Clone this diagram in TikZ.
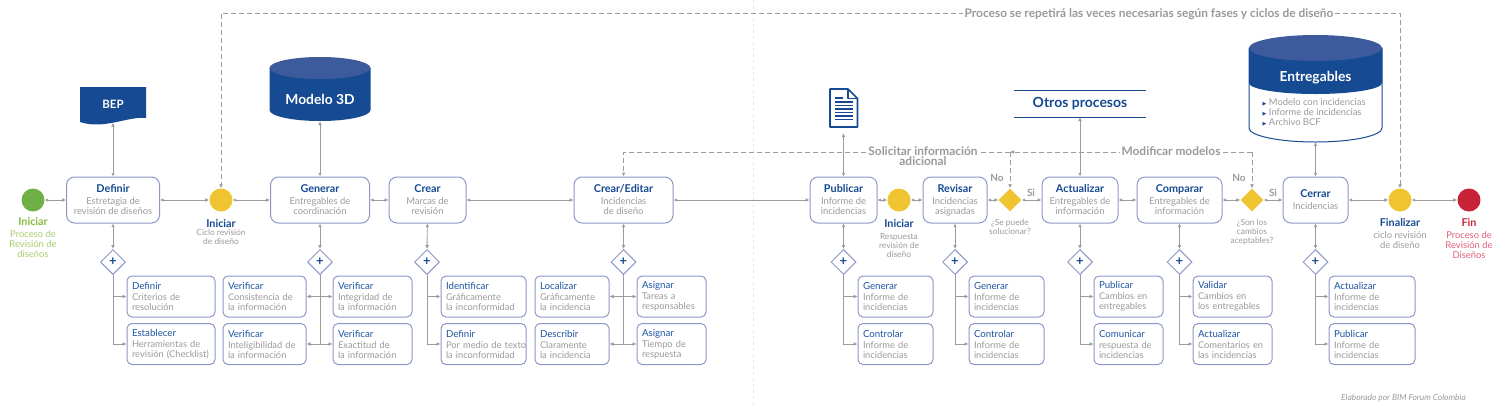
\documentclass[tikz,border=0pt]{standalone}
\usepackage{fontspec}
\setmainfont{Lato}
\newfontfamily\symfont{DejaVu Sans}
\usetikzlibrary{arrows.meta,positioning,shapes.geometric}
\definecolor{navy}{HTML}{164A92}
\definecolor{navylight}{HTML}{3C5A9C}
\definecolor{bluetitle}{HTML}{1D55A3}
\definecolor{edge}{HTML}{8E97C9}
\definecolor{linegray}{HTML}{9C9C9C}
\definecolor{bodygray}{HTML}{9A9A9A}
\definecolor{startgreen}{HTML}{6FAF45}
\definecolor{startlight}{HTML}{A9CB6F}
\definecolor{gold}{HTML}{F0C431}
\definecolor{endred}{HTML}{C72336}
\definecolor{endlight}{HTML}{E0607A}
\tikzset{mainbox/.style={draw=edge, line width=1pt, rounded corners=8, fill=white, minimum height=46, inner sep=0pt, align=center, text=bodygray, font=\fontsize{9.4}{10}\selectfont}}
\tikzset{subbox/.style={draw=edge, line width=1pt, rounded corners=5, fill=white, minimum height=41, inner xsep=5pt, inner ysep=0pt, text width=#1, align=left, text=bodygray, font=\fontsize{9.3}{10}\selectfont}}
\tikzset{arr/.style={draw=linegray, line width=.9pt, {Latex[length=3.5pt,width=3.5pt]}-{Latex[length=4pt,width=4pt]}}}
\tikzset{branch/.style={draw=linegray, line width=.9pt, -{Latex[length=4pt,width=4pt]}}}
\tikzset{dasharr/.style={draw=linegray, line width=.9pt, dash pattern=on 5pt off 3pt, -{Latex[length=4pt,width=4pt]}}}
\tikzset{gateway/.style={diamond, draw=edge, line width=1pt, fill=white, minimum size=25, inner sep=0pt, text=navy, font=\bfseries\fontsize{13}{13}\selectfont}}
\tikzset{decision/.style={diamond, fill=gold, minimum size=23, inner sep=0pt}}
\tikzset{event/.style={circle, minimum size=23, inner sep=0pt}}
\tikzset{caption/.style={align=center, anchor=north, inner sep=0pt, text=bodygray, font=\fontsize{9.4}{10}\selectfont}}
\tikzset{smallcap/.style={align=center, inner sep=0pt, text=bodygray, font=\fontsize{8.4}{9}\selectfont}}
\tikzset{flaglabel/.style={inner sep=0pt, text=bodygray, font=\bfseries\fontsize{10}{10}\selectfont}}
\tikzset{linelabel/.style={fill=white, inner sep=2pt, align=center, text=bodygray, font=\bfseries\fontsize{11.9}{10}\selectfont}}
\newcommand{\mt}[1]{{\bfseries\fontsize{10.8}{10}\selectfont\color{navy}#1}}
\newcommand{\st}[1]{{\fontsize{9.7}{10}\selectfont\color{bluetitle}#1}\\[1pt]}

\begin{document}
\begin{tikzpicture}[x=1pt,y=-1pt]
	\useasboundingbox (0,0) rectangle (1497,408);

	% central fold
	\coordinate (foldtop) at (753,0);
	\coordinate (foldend) at (753,408);
	\draw[black!9, dashed, line width=1pt] (foldtop) -- (foldend);

	% main row
	\node[event, fill=startgreen] (start) at (33,200){};
	\node[mainbox, minimum width=93] (definir) at (113,200){\mt{Definir}\\[2pt]Estretagia de\\revisión de diseños};
	\node[event, fill=gold] (iniciarA) at (221,200){};
	\node[mainbox, minimum width=99] (generar) at (320,200){\mt{Generar}\\[2pt]Entregables de\\coordinación};
	\node[mainbox, minimum width=77] (crear) at (427.5,200){\mt{Crear}\\[2pt]Marcas de\\revisión};
	\node[mainbox, minimum width=99] (editar) at (623.5,200){\mt{Crear/Editar}\\[2pt]Incidencias\\de diseño};
	\node[mainbox, minimum width=67] (publicar) at (843.5,200){\mt{Publicar}\\[2pt]Informe de\\incidencias};
	\node[event, fill=gold] (iniciarB) at (899,200){};
	\node[mainbox, minimum width=64] (revisar) at (955,200){\mt{Revisar}\\[2pt]Incidencias\\asignadas};
	\node[decision] (gateA) at (1010,200){};
	\node[mainbox, minimum width=76] (actualizar) at (1080,200){\mt{Actualizar}\\[2pt]Entregables de\\información};
	\node[mainbox, minimum width=85] (comparar) at (1179.5,200){\mt{Comparar}\\[2pt]Entregables de\\información};
	\node[decision] (gateB) at (1252,200){};
	\node[mainbox, minimum width=65] (cerrar) at (1315.5,200){\mt{Cerrar}\\[2pt]Incidencias};
	\node[event, fill=gold] (finalizar) at (1400,200){};
	\node[event, fill=endred] (fin) at (1469,200){};

	\draw[arr] (start) -- (definir);
	\draw[arr] (definir) -- (iniciarA);
	\draw[arr] (iniciarA) -- (generar);
	\draw[arr] (generar) -- (crear);
	\draw[arr] (crear) -- (editar);
	\draw[arr] (editar) -- (publicar);
	\draw[arr] (publicar) -- (iniciarB);
	\draw[arr] (iniciarB) -- (revisar);
	\draw[arr] (revisar) -- (gateA);
	\draw[arr] (gateA) -- (actualizar);
	\draw[arr] (actualizar) -- (comparar);
	\draw[arr] (comparar) -- (gateB);
	\draw[arr] (gateB) -- (cerrar);
	\draw[arr] (cerrar) -- (finalizar);
	\draw[arr] (finalizar) -- (fin);

	% captions
	\node[caption, text=startlight] (capstart) at (33,217){{\bfseries\fontsize{10.8}{10}\selectfont\color{startgreen!85!yellow}Iniciar}\\[2pt]Proceso de\\Revisión de\\diseños};
	\node[smallcap, anchor=north] (capA) at (221,219){\mt{Iniciar}\\[-1pt]Ciclo revisión\\de diseño};
	\node[smallcap, anchor=north] (capB) at (899,219){\mt{Iniciar}\\[3pt]Respuesta\\revisión de\\diseño};
	\node[smallcap, anchor=north] (capgateA) at (1010,219){¿Se puede\\solucionar?};
	\node[smallcap, anchor=north] (capgateB) at (1252,219){¿Son los\\cambios\\aceptables?};
	\node[caption] (capfinal) at (1400,218){\mt{Finalizar}\\[2pt]ciclo revisión\\de diseño};
	\node[caption, text=endlight] (capfin) at (1469,218){{\bfseries\fontsize{10.8}{10}\selectfont\color{endred}Fin}\\[2pt]Proceso de\\Revisión de\\Diseños};
	\node[flaglabel] (noA) at (997,178){No};
	\node[flaglabel] (siA) at (1031,193){Si};
	\node[flaglabel] (noB) at (1239,178){No};
	\node[flaglabel] (siB) at (1273,193){Si};

	% gateways
	\node[gateway] (gdef) at (113,262){+};
	\node[gateway] (ggen) at (320,262){+};
	\node[gateway] (gcre) at (427,262){+};
	\node[gateway] (gedi) at (623.5,262){+};
	\node[gateway] (gpub) at (843.5,262){+};
	\node[gateway] (grev) at (955,262){+};
	\node[gateway] (gact) at (1080,262){+};
	\node[gateway] (gcom) at (1179.5,262){+};
	\node[gateway] (gcer) at (1315.5,262){+};

	\draw[arr] (definir) -- (gdef);
	\draw[arr] (generar) -- (ggen);
	\draw[arr] (crear) -- (gcre);
	\draw[arr] (editar) -- (gedi);
	\draw[arr] (publicar) -- (gpub);
	\draw[arr] (revisar) -- (grev);
	\draw[arr] (actualizar) -- (gact);
	\draw[arr] (comparar) -- (gcom);
	\draw[arr] (cerrar) -- (gcer);

	% sub tasks
	\node[subbox=78] (defA) at (171,296.5){\st{Definir}Criterios de\\resolución};
	\node[subbox=78] (defB) at (171,344){\st{Establecer}Herramientas de\\revisión (Checklist)};
	\node[subbox=73] (verA) at (264.5,296.5){\st{Verificar}Consistencia de\\la información};
	\node[subbox=73] (verB) at (264.5,344){\st{Verificar}Inteligibilidad de\\la información};
	\node[subbox=69] (verC) at (372.5,296.5){\st{Verificar}Integridad de\\la información};
	\node[subbox=69] (verD) at (372.5,344){\st{Verificar}Exactitud de\\la información};
	\node[subbox=75] (idnt) at (483.5,296.5){\st{Identificar}Gráficamente\\la inconformidad};
	\node[subbox=75] (dfnr) at (483.5,344){\st{Definir}\mbox{Por medio de texto}\\la inconformidad};
	\node[subbox=64] (loca) at (572,296.5){\st{Localizar}Gráficamente\\la incidencia};
	\node[subbox=64] (desc) at (572,344){\st{Describir}Claramente\\la incidencia};
	\node[subbox=59] (asgA) at (671.5,296.5){\st{Asignar}Tareas a\\responsables};
	\node[subbox=59] (asgB) at (671.5,344){\st{Asignar}Tiempo de\\respuesta};
	\node[subbox=65] (genA) at (895.5,296.5){\st{Generar}Informe de\\incidencias};
	\node[subbox=65] (conA) at (895.5,344){\st{Controlar}Informe de\\incidencias};
	\node[subbox=65] (genB) at (1006.5,296.5){\st{Generar}Informe de\\incidencias};
	\node[subbox=65] (conB) at (1006.5,344){\st{Controlar}Informe de\\incidencias};
	\node[subbox=59] (pubC) at (1128.5,296.5){\st{Publicar}Cambios en\\entregables};
	\node[subbox=59] (comC) at (1128.5,344){\st{Comunicar}respuesta de\\incidencias};
	\node[subbox=69] (valD) at (1232.5,296.5){\st{Validar}Cambios en\\los entregables};
	\node[subbox=69] (actD) at (1232.5,344){\st{Actualizar}Comentarios en\\las incidencias};
	\node[subbox=76] (actE) at (1372,296.5){\st{Actualizar}Informe de\\incidencias};
	\node[subbox=76] (pubE) at (1372,344){\st{Publicar}Informe de\\incidencias};

	\draw[branch] (gdef.south) |- (defA);
	\draw[branch] (gdef.south) |- (defB);
	\draw[branch] (ggen.south) |- (verA);
	\draw[branch] (ggen.south) |- (verB);
	\draw[branch] (ggen.south) |- (verC);
	\draw[branch] (ggen.south) |- (verD);
	\draw[branch] (gcre.south) |- (idnt);
	\draw[branch] (gcre.south) |- (dfnr);
	\draw[branch] (gedi.south) |- (loca);
	\draw[branch] (gedi.south) |- (desc);
	\draw[branch] (gedi.south) |- (asgA);
	\draw[branch] (gedi.south) |- (asgB);
	\draw[branch] (gpub.south) |- (genA);
	\draw[branch] (gpub.south) |- (conA);
	\draw[branch] (grev.south) |- (genB);
	\draw[branch] (grev.south) |- (conB);
	\draw[branch] (gact.south) |- (pubC);
	\draw[branch] (gact.south) |- (comC);
	\draw[branch] (gcom.south) |- (valD);
	\draw[branch] (gcom.south) |- (actD);
	\draw[branch] (gcer.south) |- (actE);
	\draw[branch] (gcer.south) |- (pubE);

	% stores and documents
	\fill[navy] (80,87) -- (146,87) -- (146,118) .. controls (128,116) and (104,130) .. (80,122) -- cycle;
	\node[inner sep=0pt, minimum width=66, minimum height=36, text=white, font=\bfseries\fontsize{11.5}{12}\selectfont] (bep) at (113,104.5){BEP};

	\fill[navy] (269.5,68) -- (269.5,110) arc[start angle=180, end angle=0, x radius=50.5, y radius=11] -- (370.5,68) -- cycle;
	\fill[navylight] (320,68) ellipse[x radius=50.5, y radius=11];
	\node[inner sep=0pt, minimum width=101, minimum height=44, text=white, font=\bfseries\fontsize{13.8}{14}\selectfont] (modelo) at (320,99){Modelo 3D};

	\draw[navy, line width=1.6pt, line join=round, fill=white] (830,89) -- (848,89) -- (857.5,98.5) -- (857.5,127) -- (830,127) -- cycle;
	\draw[navy, line width=1.2pt, line join=round] (848,89) -- (848,98.5) -- (857.5,98.5);
	\foreach \ly in {102,105.5,109,112.5,116,119.5}{
		\draw[navy, line width=1.3pt] (835,\ly) -- (853,\ly);
	}
	\draw[navy, line width=1.3pt] (835,98) -- (843,98);
	\node[inner sep=0pt, minimum width=29, minimum height=46] (informe) at (843.5,110){};

	\node[inner sep=0pt, minimum width=132, minimum height=26, text=navy, font=\bfseries\fontsize{14}{14}\selectfont] (otros) at (1080,104){Otros procesos};
	\draw[navy, line width=1pt] (otros.north west) -- (otros.north east);
	\draw[navy, line width=1pt] (otros.south west) -- (otros.south east);

	\fill[white, draw=navy, line width=1pt] (1249,48) -- (1249,128) arc[start angle=180, end angle=0, x radius=66.5, y radius=14] -- (1382,48) -- cycle;
	\fill[navy] (1249,48) -- (1249,83) arc[start angle=180, end angle=0, x radius=66.5, y radius=11] -- (1382,48) -- cycle;
	\fill[navylight] (1315.5,48) ellipse[x radius=66.5, y radius=13];
	\node[inner sep=0pt, minimum width=133, minimum height=107] (entregables) at (1315.5,88.5){};
	\node[inner sep=0pt, text=white, font=\bfseries\fontsize{13.8}{14}\selectfont] (entitle) at (1315.5,78){Entregables};
	\node[inner sep=0pt, align=left, anchor=north west, text=bodygray, font=\fontsize{9.4}{10}\selectfont] (enlist) at (1262.5,98){{\symfont\fontsize{5}{5}\selectfont\color{navy}▶} Modelo con incidencias\\{\symfont\fontsize{5}{5}\selectfont\color{navy}▶} Informe de incidencias\\{\symfont\fontsize{5}{5}\selectfont\color{navy}▶} Archivo BCF};

	\draw[arr] (definir) -- (bep);
	\draw[arr] (generar) -- (modelo);
	\draw[arr] (publicar) -- (informe);
	\draw[arr] (actualizar) -- (otros);
	\draw[arr] (cerrar) -- (entregables);

	% dashed returns
	\coordinate (ciclotopA) at (221,13);
	\coordinate (ciclotopB) at (1400,13);
	\coordinate (soltopA) at (1010,152);
	\coordinate (soltopB) at (623.5,152);
	\coordinate (modtopB) at (1252,152);
	\draw[dasharr, {Latex[length=4pt,width=4pt]}-{Latex[length=4pt,width=4pt]}] (finalizar) -- (ciclotopB) -- (ciclotopA) -- (iniciarA);
	\draw[dasharr] (soltopA) -- (soltopB) -- (editar);
	\draw[dasharr] (soltopA) -- (gateA);
	\draw[dasharr] (modtopB) -- (soltopA);
	\draw[dasharr] (modtopB) -- (gateB);
	\node[linelabel] (lblciclo) at (1149,14){Proceso se repetirá las veces necesarias según fases y ciclos de diseño};
	\node[linelabel] (lblsol) at (923,156){Solicitar información\\adicional};
	\node[linelabel] (lblmod) at (1171,151){Modificar modelos};

	\node[inner sep=0pt, text=bodygray, font=\itshape\fontsize{8.4}{9}\selectfont] (credito) at (1403.5,398){Elaborado por BIM Forum Colombia};
\end{tikzpicture}
\end{document}
